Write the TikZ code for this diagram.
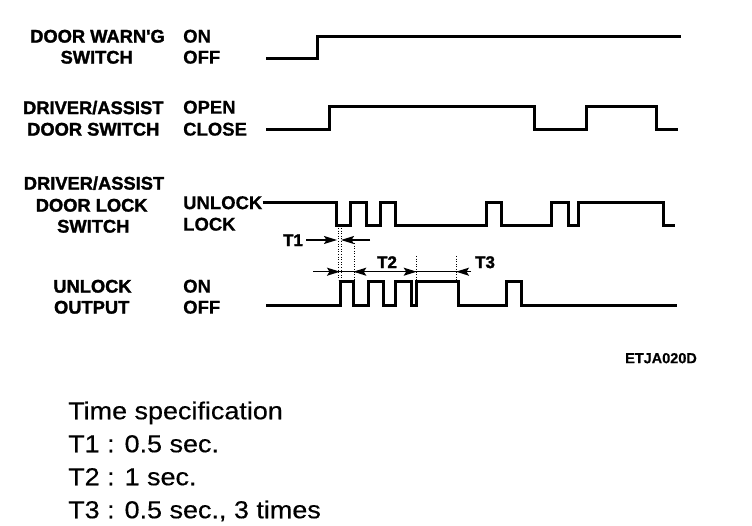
\documentclass[tikz,border=0pt]{standalone}
\usepackage{fontspec}
\setmainfont{Liberation Sans}
\newfontfamily\heavyfont{Liberation Sans}[FakeBold=1.6]
\newfontfamily\midfont{Liberation Sans}[FakeBold=0.5]
\newfontfamily\widefont{Liberation Sans}[FakeStretch=1.1, FakeBold=0.4]
\usetikzlibrary{arrows.meta}
\tikzset{
  lbl/.style={font=\heavyfont\bfseries\fontsize{18.3}{20}\selectfont, inner sep=0pt, text height=13.2pt, text depth=0pt},
  st/.style={font=\midfont\bfseries\fontsize{18.5}{20}\selectfont, inner sep=0pt, anchor=west, text height=13.2pt, text depth=0pt},
  tlbl/.style={font=\heavyfont\bfseries\fontsize{17}{18}\selectfont, inner sep=0pt, text height=12.2pt, text depth=0pt},
  wave/.style={line width=3pt, line join=miter, line cap=butt},
  dim/.style={line width=1.4pt},
  arr/.style={dim, -{Stealth[length=13pt,width=8pt,inset=2.5pt]}},
  guide/.style={line width=0.6pt, dotted},
  spec/.style={font=\widefont\fontsize{24.5}{26}\selectfont, anchor=west, inner sep=0pt, text height=17.5pt, text depth=0pt},
  code/.style={font=\midfont\bfseries\fontsize{14.5}{16}\selectfont, inner sep=0pt, text height=10.4pt, text depth=0pt}
}
\begin{document}
\begin{tikzpicture}[x=1pt,y=-1pt]
\useasboundingbox (0,0) rectangle (752,526);

% ---------- left labels ----------
\node[lbl] (dw1) at (97.5,36) {DOOR WARN'G};
\node[lbl] (dw2) at (96.7,57) {SWITCH};
\node[st] (dwon) at (183,36) {ON};
\node[st] (dwoff) at (183,57) {OFF};

\node[lbl] (ds1) at (93.3,107.5) {DRIVER/ASSIST};
\node[lbl] (ds2) at (93.3,129) {DOOR SWITCH};
\node[st] (dsopen) at (183,107) {OPEN};
\node[st] (dsclose) at (183,129) {CLOSE};

\node[lbl] (ls1) at (94,183) {DRIVER/ASSIST};
\node[lbl] (ls2) at (91.7,205) {DOOR LOCK};
\node[lbl] (ls3) at (93.3,226) {SWITCH};
\node[st] (lsun) at (183,202.5) {UNLOCK};
\node[st] (lslock) at (183,224) {LOCK};

\node[lbl] (uo1) at (92.5,286) {UNLOCK};
\node[lbl] (uo2) at (91.7,307) {OUTPUT};
\node[st] (uoon) at (183,286) {ON};
\node[st] (uooff) at (183,307) {OFF};

% ---------- waveforms ----------
\draw[wave] (266,59) -- (317,59) -- (317,37) -- (681,37);
\draw[wave] (266,130) -- (329,130) -- (329,106.5) -- (534,106.5) -- (534,130)
  -- (586,130) -- (586,107) -- (656,107) -- (656,130) -- (678,130);
\draw[wave] (lsun.east |- 0,202.7) -- (336.7,202.7) -- (336.7,226) -- (350.7,226)
  -- (350.7,202.7) -- (366.7,202.7) -- (366.7,226) -- (380,226) -- (380,202.7)
  -- (395,202.7) -- (395,226) -- (486.7,226) -- (486.7,202.7) -- (501.7,202.7)
  -- (501.7,226) -- (551.7,226) -- (551.7,202.7) -- (568.3,202.7) -- (568.3,226)
  -- (578.3,226) -- (578.3,202.7) -- (663.3,202.7) -- (663.3,226) -- (675,226);
\draw[wave] (266,306) -- (340,306) -- (340,281.7) -- (353.3,281.7) -- (353.3,306)
  -- (368.3,306) -- (368.3,281.7) -- (383.3,281.7) -- (383.3,306) -- (395,306)
  -- (395,281.7) -- (411.7,281.7) -- (411.7,306) -- (416.7,306) -- (416.7,281.7)
  -- (458.3,281.7) -- (458.3,306) -- (506.7,306) -- (506.7,281.7) -- (521.7,281.7)
  -- (521.7,306) -- (676.7,306);

% ---------- timing guides ----------
\draw[guide] (338,228) -- (338,280);
\draw[guide] (341.5,228) -- (341.5,280);
\draw[guide] (354,243) -- (354,280);
\draw[guide] (416.7,256) -- (416.7,280);
\draw[guide] (456.5,256) -- (456.5,280);

% ---------- T1 ----------
\node[tlbl] (t1) at (293,240) {T1};
\coordinate (t1a) at (337,240);
\coordinate (t1b) at (341,240);
\coordinate (t1r) at (370,240);
\draw[arr] (t1.east) ++(3,0) -- (t1a);
\draw[arr] (t1r) -- (t1b);

% ---------- T2 / T3 ----------
\node[tlbl] (t2) at (387,262) {T2};
\node[tlbl] (t3) at (485,262) {T3};
\coordinate (dl) at (313,271.7);
\coordinate (dr) at (471,271.7);
\coordinate (p1) at (340,271.7);
\coordinate (p2) at (353.3,271.7);
\coordinate (p3) at (416.7,271.7);
\coordinate (p4) at (456,271.7);
\draw[dim] (dl) -- (dr);
\draw[arr] (dl) -- (p1);
\draw[arr] (p3) -- (p2);
\draw[arr] (p2) -- (p3);
\draw[arr] (dr) -- (p4);

% ---------- code ----------
\node[code] (code) at (661,358) {ETJA020D};

% ---------- specification ----------
\node[spec] (s0) at (68,410.5) {Time specification};
\node[spec] (s1) at (68,443.5) {T1 : 0.5 sec.};
\node[spec] (s2) at (68,476.5) {T2 : 1 sec.};
\node[spec] (s3) at (68,509.5) {T3 : 0.5 sec., 3 times};
\end{tikzpicture}
\end{document}
